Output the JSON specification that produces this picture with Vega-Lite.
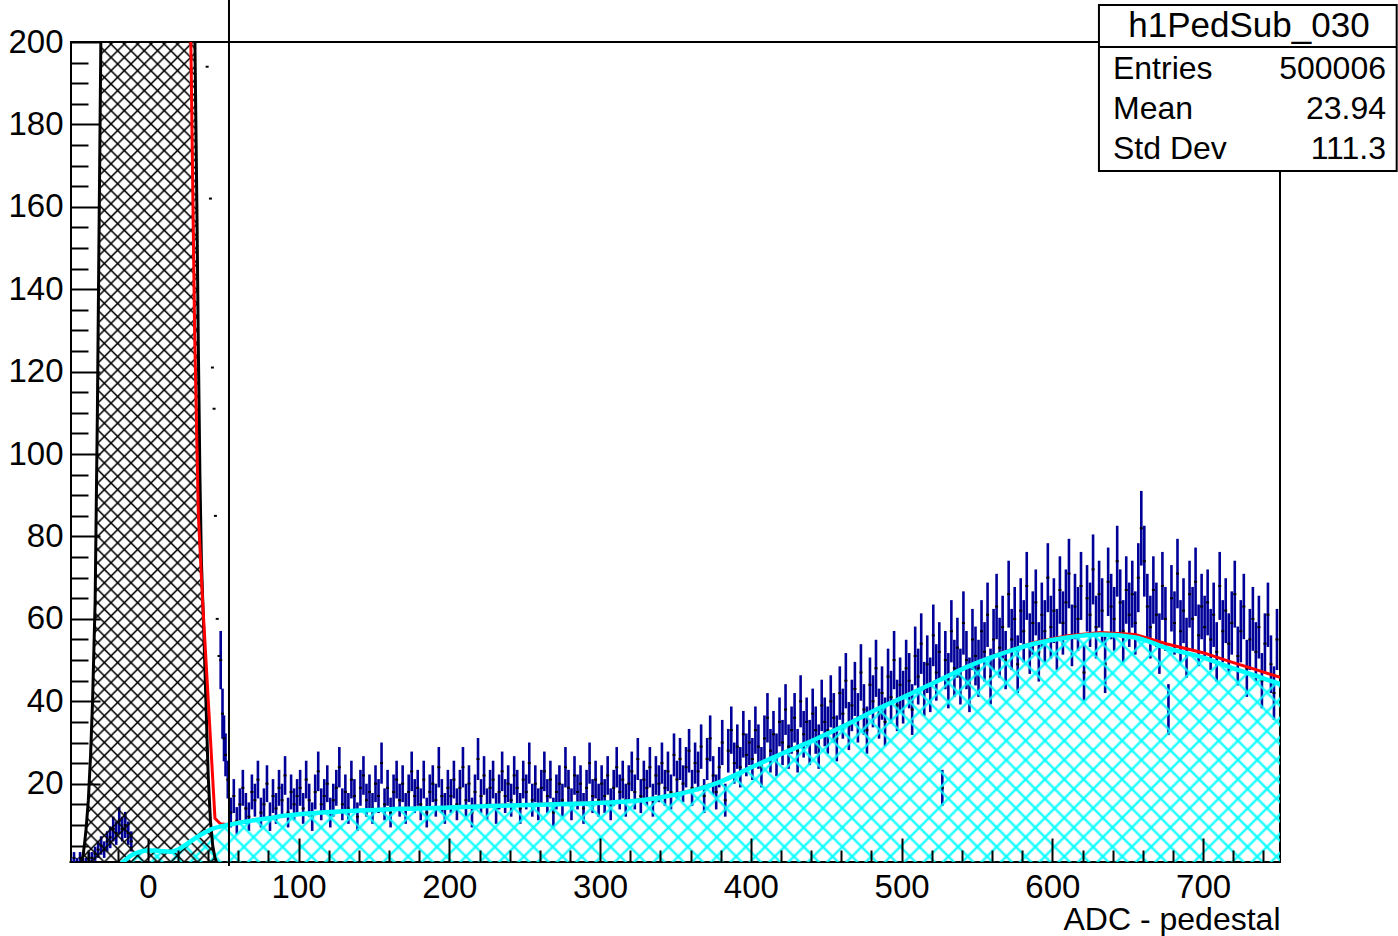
{
"$schema": "https://vega.github.io/schema/vega-lite/v6.json",
"width": 1209, "height": 820,
"autosize": {"type": "none"},
"padding": {"left": 71, "top": 42, "right": 118, "bottom": 74},
"background": "white",
"config": {"view": {"stroke": "black", "strokeWidth": 2}, "font": "Liberation Sans",
 "axis": {"domain": false, "tickColor": "black", "tickWidth": 2, "labelFont": "Liberation Sans", "labelFontSize": 33, "labelColor": "black", "titleFont": "Liberation Sans", "titleFontSize": 32, "titleFontWeight": "normal", "titleColor": "black"},
 "axisX": {"labelPadding": 33}, "axisY": {"labelPadding": 37}},
"datasets": {
"ped": [{"x":-48,"y":0},{"x":-45.5,"y":0.5},{"x":-44,"y":1.2},{"x":-43,"y":2.5},{"x":-42,"y":5.5},{"x":-41,"y":9},{"x":-39.5,"y":16},{"x":-38,"y":27},{"x":-36.7,"y":40},{"x":-35,"y":64},{"x":-33.5,"y":110},{"x":-32.5,"y":150},{"x":-31.2,"y":200},{"x":-30.6,"y":215},{"x":30.6,"y":215},{"x":31.2,"y":200},{"x":32.5,"y":160},{"x":33.5,"y":125},{"x":34.5,"y":95},{"x":35.5,"y":74},{"x":37,"y":58},{"x":38.5,"y":40},{"x":40,"y":22},{"x":41.5,"y":11},{"x":43,"y":5},{"x":44.5,"y":2},{"x":46,"y":0.5},{"x":48,"y":0}],
"red": [{"x":27.8,"y":240},{"x":28.5,"y":200},{"x":31,"y":130},{"x":33.5,"y":85},{"x":36.3,"y":64.3},{"x":40.4,"y":38},{"x":44.5,"y":11.6},{"x":48,"y":10.3},{"x":52.4,"y":10.1},{"x":60,"y":10.6},{"x":70,"y":11.2},{"x":80,"y":11.7},{"x":100,"y":12.7},{"x":130,"y":13.4},{"x":167,"y":14},{"x":200,"y":14.3},{"x":227,"y":14.7},{"x":260,"y":15},{"x":290,"y":15.3},{"x":315,"y":15.7},{"x":330,"y":16.2},{"x":345,"y":17.1},{"x":360,"y":18.3},{"x":380,"y":20.6},{"x":397,"y":23.5},{"x":420,"y":27.3},{"x":441,"y":30.6},{"x":465,"y":34.7},{"x":486,"y":38.6},{"x":500,"y":40.9},{"x":515,"y":43.5},{"x":530,"y":46.1},{"x":543,"y":48.5},{"x":565,"y":51.6},{"x":587,"y":54.2},{"x":610,"y":55.9},{"x":632,"y":56.7},{"x":655,"y":56.2},{"x":676,"y":53.9},{"x":700,"y":51.8},{"x":720,"y":49.4},{"x":735,"y":47.7},{"x":751,"y":45.8}],
"cyan": [{"x":-19.5,"y":0},{"x":-15,"y":1.5},{"x":-10,"y":2.8},{"x":-5,"y":3.5},{"x":0,"y":3.8},{"x":5,"y":3.8},{"x":10,"y":3.6},{"x":15,"y":3.5},{"x":20,"y":4},{"x":26,"y":5.4},{"x":31,"y":6.7},{"x":36,"y":7.8},{"x":40,"y":8.6},{"x":44,"y":9.2},{"x":48,"y":9.6},{"x":52,"y":9.9},{"x":60,"y":10.5},{"x":70,"y":11.1},{"x":80,"y":11.6},{"x":90,"y":12.2},{"x":100,"y":12.6},{"x":115,"y":13},{"x":130,"y":13.3},{"x":150,"y":13.6},{"x":167,"y":13.9},{"x":200,"y":14.2},{"x":227,"y":14.6},{"x":260,"y":14.9},{"x":290,"y":15.2},{"x":315,"y":15.6},{"x":330,"y":16.1},{"x":345,"y":17},{"x":360,"y":18.2},{"x":380,"y":20.5},{"x":397,"y":23.4},{"x":420,"y":27.2},{"x":441,"y":30.5},{"x":465,"y":34.6},{"x":486,"y":38.5},{"x":500,"y":40.8},{"x":515,"y":43.4},{"x":530,"y":46},{"x":543,"y":48.3},{"x":565,"y":51.4},{"x":587,"y":53.9},{"x":610,"y":55.5},{"x":632,"y":56.2},{"x":655,"y":55.5},{"x":676,"y":52.9},{"x":700,"y":50.6},{"x":720,"y":48},{"x":735,"y":46.2},{"x":751,"y":44.2}]
},
"layer": [
{"data": {"values": "x,y,s\n-51,1,1\n-49,2,1.41\n-47,1,1\n-45,2,1.41\n-43,1,1\n-41,1,1\n-39,2,1.41\n-37,2,1.41\n-35,3,1.73\n-33,4,2\n-31,5,2.24\n-29,4,2\n-27,6,2.45\n-25,7,2.65\n-23,9,3\n-21,8,2.83\n-19,11,3.32\n-17,9,3\n-15,10,3.16\n-13,8,2.83\n-11,6,2.45\n39.3,194,0\n41.5,162,0\n42.8,121,0\n43.9,111,0\n44.8,85,0\n46,60,0\n47.2,51,0\n48.3,50,7.07\n49.5,37,6.08\n50.5,31,5.57\n51.5,27,5.2\n53,21,4.58\n55,13,3.61\n57,17,4.12\n59,11,3.32\n61,15,3.87\n63,19,4.36\n65,14,3.74\n67,12,3.46\n69,18,4.24\n71,16,4\n73,21,4.58\n75,13,3.61\n77,15,3.87\n79,20,4.47\n81,12,3.46\n83,17,4.12\n85,14,3.74\n87,19,4.36\n89,16,4\n91,22,4.69\n93,13,3.61\n95,18,4.24\n97,15,3.87\n99,17,4.12\n101,19,4.36\n103,14,3.74\n105,21,4.58\n107,16,4\n109,12,3.46\n111,18,4.24\n113,23,4.8\n115,15,3.87\n117,17,4.12\n119,20,4.47\n121,13,3.61\n123,16,4\n125,19,4.36\n127,24,4.9\n129,15,3.87\n131,18,4.24\n133,14,3.74\n135,21,4.58\n137,17,4.12\n139,12,3.46\n141,19,4.36\n143,22,4.69\n145,16,4\n147,18,4.24\n149,14,3.74\n151,20,4.47\n153,17,4.12\n155,25,5\n157,15,3.87\n159,19,4.36\n161,13,3.61\n163,18,4.24\n165,21,4.58\n167,16,4\n169,20,4.47\n171,14,3.74\n173,18,4.24\n175,23,4.8\n177,17,4.12\n179,19,4.36\n181,15,3.87\n183,21,4.58\n185,13,3.61\n187,18,4.24\n189,20,4.47\n191,16,4\n193,24,4.9\n195,17,4.12\n197,14,3.74\n199,19,4.36\n201,17,4.12\n203,21,4.58\n205,15,3.87\n207,19,4.36\n209,24,4.9\n211,16,4\n213,20,4.47\n215,13,3.61\n217,18,4.24\n219,26,5.1\n221,17,4.12\n223,22,4.69\n225,15,3.87\n227,19,4.36\n229,21,4.58\n231,14,3.74\n233,18,4.24\n235,23,4.8\n237,17,4.12\n239,20,4.47\n241,16,4\n243,22,4.69\n245,19,4.36\n247,14,3.74\n249,21,4.58\n251,18,4.24\n253,25,5\n255,16,4\n257,20,4.47\n259,15,3.87\n261,19,4.36\n263,23,4.8\n265,17,4.12\n267,21,4.58\n269,13,3.61\n271,18,4.24\n273,20,4.47\n275,16,4\n277,24,4.9\n279,19,4.36\n281,15,3.87\n283,22,4.69\n285,18,4.24\n287,20,4.47\n289,14,3.74\n291,19,4.36\n293,25,5\n295,17,4.12\n297,21,4.58\n299,16,4\n301,20,4.47\n303,17,4.12\n305,22,4.69\n307,15,3.87\n309,19,4.36\n311,24,4.9\n313,18,4.24\n315,21,4.58\n317,16,4\n319,20,4.47\n321,23,4.8\n323,18,4.24\n325,26,5.1\n327,17,4.12\n329,21,4.58\n331,19,4.36\n333,24,4.9\n335,16,4\n337,22,4.69\n339,20,4.47\n341,25,5\n343,19,4.36\n345,23,4.8\n347,18,4.24\n349,27,5.2\n351,21,4.58\n353,26,5.1\n355,20,4.47\n357,24,4.9\n359,28,5.29\n361,19,4.36\n363,25,5\n365,23,4.8\n367,29,5.39\n369,17,4.12\n371,26,5.1\n373,31,5.57\n375,22,4.69\n377,18,4.24\n379,24,4.9\n381,30,5.48\n383,16,4\n385,28,5.29\n387,33,5.74\n389,25,5\n391,29,5.39\n393,24,4.9\n395,32,5.66\n397,27,5.2\n399,30,5.48\n401,26,5.1\n403,33,5.74\n405,29,5.39\n407,24,4.9\n409,31,5.57\n411,36,6\n413,28,5.29\n415,32,5.66\n417,27,5.2\n419,35,5.92\n421,30,5.48\n423,38,6.16\n425,29,5.39\n427,33,5.74\n429,36,6\n431,28,5.29\n433,40,6.32\n435,32,5.66\n437,35,5.92\n439,30,5.48\n441,37,6.08\n443,33,5.74\n445,29,5.39\n447,39,6.24\n449,35,5.92\n451,33,5.74\n453,40,6.32\n455,36,6\n457,31,5.57\n459,42,6.48\n461,37,6.08\n463,45,6.71\n465,34,5.83\n467,39,6.24\n469,43,6.56\n471,36,6\n473,47,6.86\n475,38,6.16\n477,33,5.74\n479,44,6.63\n481,40,6.32\n483,48,6.93\n485,37,6.08\n487,42,6.48\n489,35,5.92\n491,46,6.78\n493,41,6.4\n495,50,7.07\n497,39,6.24\n499,44,6.63\n501,41,6.4\n503,48,6.93\n505,45,6.71\n507,38,6.16\n509,51,7.14\n511,46,6.78\n513,54,7.35\n515,43,6.56\n517,49,7\n519,44,6.63\n521,56,7.48\n523,47,6.86\n525,52,7.21\n527,19,4.36\n529,50,7.07\n531,45,6.71\n533,57,7.55\n535,48,6.93\n537,53,7.28\n539,46,6.78\n541,59,7.68\n543,50,7.07\n545,44,6.63\n547,55,7.42\n549,51,7.14\n551,48,6.93\n553,57,7.55\n555,52,7.21\n557,61,7.81\n559,46,6.78\n561,55,7.42\n563,63,7.94\n565,53,7.28\n567,58,7.62\n569,50,7.07\n571,66,8.12\n573,55,7.42\n575,60,7.75\n577,49,7\n579,62,7.87\n581,57,7.55\n583,68,8.25\n585,54,7.35\n587,59,7.68\n589,64,8\n591,52,7.21\n593,61,7.81\n595,57,7.55\n597,70,8.37\n599,58,7.62\n601,62,7.87\n603,55,7.42\n605,67,8.19\n607,59,7.68\n609,64,8\n611,71,8.43\n613,56,7.48\n615,63,7.94\n617,60,7.75\n619,68,8.25\n621,47,6.86\n623,65,8.06\n625,61,7.81\n627,72,8.49\n629,58,7.62\n631,66,8.12\n633,62,7.87\n635,49,7\n637,69,8.31\n639,63,7.94\n641,60,7.75\n643,74,8.6\n645,64,8\n647,57,7.55\n649,67,8.19\n651,61,7.81\n653,66,8.12\n655,59,7.68\n657,70,8.37\n659,82,9.06\n661,74,8.6\n663,63,7.94\n665,58,7.62\n667,67,8.19\n669,61,7.81\n671,54,7.35\n673,68,8.25\n675,60,7.75\n677,38,6.16\n679,65,8.06\n681,59,7.68\n683,71,8.43\n685,57,7.55\n687,62,7.87\n689,53,7.28\n691,66,8.12\n693,60,7.75\n695,69,8.31\n697,56,7.48\n699,63,7.94\n701,58,7.62\n703,64,8\n705,55,7.42\n707,61,7.81\n709,52,7.21\n711,68,8.25\n713,57,7.55\n715,62,7.87\n717,54,7.35\n719,59,7.68\n721,66,8.12\n723,51,7.14\n725,57,7.55\n727,63,7.94\n729,48,6.93\n731,55,7.42\n733,60,7.75\n735,52,7.21\n737,58,7.62\n739,45,6.71\n741,54,7.35\n743,61,7.81\n745,49,7\n747,42,6.48\n749,55,7.42", "format": {"type": "csv", "parse": {"x": "number", "y": "number", "s": "number"}}},
 "encoding": {
  "x": {"field": "x", "type": "quantitative", "scale": {"domain": [-51, 751], "nice": false, "zero": false}, "axis": {"values": [-40,-20,0,20,40,60,80,100,120,140,160,180,200,220,240,260,280,300,320,340,360,380,400,420,440,460,480,500,520,540,560,580,600,620,640,660,680,700,720,740], "tickSize": {"condition": {"test": "datum.value % 100 === 0", "value": -24}, "value": -12}, "labelExpr": "datum.value % 100 === 0 ? datum.label : ''", "labelBaseline": "top", "labelFlush": false, "labelOverlap": false, "grid": false, "title": "ADC - pedestal", "titleAlign": "right", "titleAnchor": "end", "titleX": 1209, "titleY": 67, "titleBaseline": "alphabetic", "zindex": 1}},
  "y": {"field": "y", "type": "quantitative", "scale": {"domain": [1, 200], "nice": false, "zero": false}, "axis": {"values": [5,10,15,20,25,30,35,40,45,50,55,60,65,70,75,80,85,90,95,100,105,110,115,120,125,130,135,140,145,150,155,160,165,170,175,180,185,190,195,200], "tickSize": {"condition": {"test": "datum.value % 20 === 0", "value": -29}, "value": -17}, "labelExpr": "datum.value % 20 === 0 ? datum.label : ''", "labelFlush": false, "labelOverlap": false, "grid": false, "title": null, "zindex": 1}}},
 "layer": [
  {"mark": {"type": "errorbar", "color": "#000099", "thickness": 2.6, "clip": true}, "encoding": {"yError": {"field": "s"}}},
  {"mark": {"type": "tick", "orient": "horizontal", "color": "black", "size": 3, "thickness": 2, "opacity": 1}}
 ]},
{"data": {"name": "cyan"}, "mark": {"type": "area", "opacity": 1, "clip": true, "interpolate": "monotone",
  "fill": {"gradient": "linear", "x1": 0, "y1": 0, "x2": 1.16, "y2": 0.2313, "stops": [
{"offset":0.0047,"color":"rgba(0,255,255,0)"},{"offset":0.0069,"color":"#0ff"},{"offset":0.0091,"color":"rgba(0,255,255,0)"},
{"offset":0.0185,"color":"rgba(0,255,255,0)"},{"offset":0.0207,"color":"#0ff"},{"offset":0.0229,"color":"rgba(0,255,255,0)"},
{"offset":0.0322,"color":"rgba(0,255,255,0)"},{"offset":0.0344,"color":"#0ff"},{"offset":0.0366,"color":"rgba(0,255,255,0)"},
{"offset":0.0460,"color":"rgba(0,255,255,0)"},{"offset":0.0482,"color":"#0ff"},{"offset":0.0504,"color":"rgba(0,255,255,0)"},
{"offset":0.0598,"color":"rgba(0,255,255,0)"},{"offset":0.0620,"color":"#0ff"},{"offset":0.0642,"color":"rgba(0,255,255,0)"},
{"offset":0.0736,"color":"rgba(0,255,255,0)"},{"offset":0.0758,"color":"#0ff"},{"offset":0.0780,"color":"rgba(0,255,255,0)"},
{"offset":0.0874,"color":"rgba(0,255,255,0)"},{"offset":0.0896,"color":"#0ff"},{"offset":0.0918,"color":"rgba(0,255,255,0)"},
{"offset":0.1011,"color":"rgba(0,255,255,0)"},{"offset":0.1033,"color":"#0ff"},{"offset":0.1055,"color":"rgba(0,255,255,0)"},
{"offset":0.1149,"color":"rgba(0,255,255,0)"},{"offset":0.1171,"color":"#0ff"},{"offset":0.1193,"color":"rgba(0,255,255,0)"},
{"offset":0.1287,"color":"rgba(0,255,255,0)"},{"offset":0.1309,"color":"#0ff"},{"offset":0.1331,"color":"rgba(0,255,255,0)"},
{"offset":0.1425,"color":"rgba(0,255,255,0)"},{"offset":0.1447,"color":"#0ff"},{"offset":0.1469,"color":"rgba(0,255,255,0)"},
{"offset":0.1562,"color":"rgba(0,255,255,0)"},{"offset":0.1584,"color":"#0ff"},{"offset":0.1606,"color":"rgba(0,255,255,0)"},
{"offset":0.1700,"color":"rgba(0,255,255,0)"},{"offset":0.1722,"color":"#0ff"},{"offset":0.1744,"color":"rgba(0,255,255,0)"},
{"offset":0.1838,"color":"rgba(0,255,255,0)"},{"offset":0.1860,"color":"#0ff"},{"offset":0.1882,"color":"rgba(0,255,255,0)"},
{"offset":0.1976,"color":"rgba(0,255,255,0)"},{"offset":0.1998,"color":"#0ff"},{"offset":0.2020,"color":"rgba(0,255,255,0)"},
{"offset":0.2114,"color":"rgba(0,255,255,0)"},{"offset":0.2136,"color":"#0ff"},{"offset":0.2158,"color":"rgba(0,255,255,0)"},
{"offset":0.2251,"color":"rgba(0,255,255,0)"},{"offset":0.2273,"color":"#0ff"},{"offset":0.2295,"color":"rgba(0,255,255,0)"},
{"offset":0.2389,"color":"rgba(0,255,255,0)"},{"offset":0.2411,"color":"#0ff"},{"offset":0.2433,"color":"rgba(0,255,255,0)"},
{"offset":0.2527,"color":"rgba(0,255,255,0)"},{"offset":0.2549,"color":"#0ff"},{"offset":0.2571,"color":"rgba(0,255,255,0)"},
{"offset":0.2665,"color":"rgba(0,255,255,0)"},{"offset":0.2687,"color":"#0ff"},{"offset":0.2709,"color":"rgba(0,255,255,0)"},
{"offset":0.2802,"color":"rgba(0,255,255,0)"},{"offset":0.2824,"color":"#0ff"},{"offset":0.2846,"color":"rgba(0,255,255,0)"},
{"offset":0.2940,"color":"rgba(0,255,255,0)"},{"offset":0.2962,"color":"#0ff"},{"offset":0.2984,"color":"rgba(0,255,255,0)"},
{"offset":0.3078,"color":"rgba(0,255,255,0)"},{"offset":0.3100,"color":"#0ff"},{"offset":0.3122,"color":"rgba(0,255,255,0)"},
{"offset":0.3216,"color":"rgba(0,255,255,0)"},{"offset":0.3238,"color":"#0ff"},{"offset":0.3260,"color":"rgba(0,255,255,0)"},
{"offset":0.3353,"color":"rgba(0,255,255,0)"},{"offset":0.3375,"color":"#0ff"},{"offset":0.3397,"color":"rgba(0,255,255,0)"},
{"offset":0.3491,"color":"rgba(0,255,255,0)"},{"offset":0.3513,"color":"#0ff"},{"offset":0.3535,"color":"rgba(0,255,255,0)"},
{"offset":0.3629,"color":"rgba(0,255,255,0)"},{"offset":0.3651,"color":"#0ff"},{"offset":0.3673,"color":"rgba(0,255,255,0)"},
{"offset":0.3767,"color":"rgba(0,255,255,0)"},{"offset":0.3789,"color":"#0ff"},{"offset":0.3811,"color":"rgba(0,255,255,0)"},
{"offset":0.3905,"color":"rgba(0,255,255,0)"},{"offset":0.3927,"color":"#0ff"},{"offset":0.3949,"color":"rgba(0,255,255,0)"},
{"offset":0.4042,"color":"rgba(0,255,255,0)"},{"offset":0.4064,"color":"#0ff"},{"offset":0.4086,"color":"rgba(0,255,255,0)"},
{"offset":0.4180,"color":"rgba(0,255,255,0)"},{"offset":0.4202,"color":"#0ff"},{"offset":0.4224,"color":"rgba(0,255,255,0)"},
{"offset":0.4318,"color":"rgba(0,255,255,0)"},{"offset":0.4340,"color":"#0ff"},{"offset":0.4362,"color":"rgba(0,255,255,0)"},
{"offset":0.4456,"color":"rgba(0,255,255,0)"},{"offset":0.4478,"color":"#0ff"},{"offset":0.4500,"color":"rgba(0,255,255,0)"},
{"offset":0.4593,"color":"rgba(0,255,255,0)"},{"offset":0.4615,"color":"#0ff"},{"offset":0.4637,"color":"rgba(0,255,255,0)"},
{"offset":0.4731,"color":"rgba(0,255,255,0)"},{"offset":0.4753,"color":"#0ff"},{"offset":0.4775,"color":"rgba(0,255,255,0)"},
{"offset":0.4869,"color":"rgba(0,255,255,0)"},{"offset":0.4891,"color":"#0ff"},{"offset":0.4913,"color":"rgba(0,255,255,0)"},
{"offset":0.5007,"color":"rgba(0,255,255,0)"},{"offset":0.5029,"color":"#0ff"},{"offset":0.5051,"color":"rgba(0,255,255,0)"},
{"offset":0.5144,"color":"rgba(0,255,255,0)"},{"offset":0.5166,"color":"#0ff"},{"offset":0.5188,"color":"rgba(0,255,255,0)"},
{"offset":0.5282,"color":"rgba(0,255,255,0)"},{"offset":0.5304,"color":"#0ff"},{"offset":0.5326,"color":"rgba(0,255,255,0)"},
{"offset":0.5420,"color":"rgba(0,255,255,0)"},{"offset":0.5442,"color":"#0ff"},{"offset":0.5464,"color":"rgba(0,255,255,0)"},
{"offset":0.5558,"color":"rgba(0,255,255,0)"},{"offset":0.5580,"color":"#0ff"},{"offset":0.5602,"color":"rgba(0,255,255,0)"},
{"offset":0.5696,"color":"rgba(0,255,255,0)"},{"offset":0.5718,"color":"#0ff"},{"offset":0.5740,"color":"rgba(0,255,255,0)"},
{"offset":0.5833,"color":"rgba(0,255,255,0)"},{"offset":0.5855,"color":"#0ff"},{"offset":0.5877,"color":"rgba(0,255,255,0)"},
{"offset":0.5971,"color":"rgba(0,255,255,0)"},{"offset":0.5993,"color":"#0ff"},{"offset":0.6015,"color":"rgba(0,255,255,0)"},
{"offset":0.6109,"color":"rgba(0,255,255,0)"},{"offset":0.6131,"color":"#0ff"},{"offset":0.6153,"color":"rgba(0,255,255,0)"},
{"offset":0.6247,"color":"rgba(0,255,255,0)"},{"offset":0.6269,"color":"#0ff"},{"offset":0.6291,"color":"rgba(0,255,255,0)"},
{"offset":0.6384,"color":"rgba(0,255,255,0)"},{"offset":0.6406,"color":"#0ff"},{"offset":0.6428,"color":"rgba(0,255,255,0)"},
{"offset":0.6522,"color":"rgba(0,255,255,0)"},{"offset":0.6544,"color":"#0ff"},{"offset":0.6566,"color":"rgba(0,255,255,0)"},
{"offset":0.6660,"color":"rgba(0,255,255,0)"},{"offset":0.6682,"color":"#0ff"},{"offset":0.6704,"color":"rgba(0,255,255,0)"},
{"offset":0.6798,"color":"rgba(0,255,255,0)"},{"offset":0.6820,"color":"#0ff"},{"offset":0.6842,"color":"rgba(0,255,255,0)"},
{"offset":0.6936,"color":"rgba(0,255,255,0)"},{"offset":0.6958,"color":"#0ff"},{"offset":0.6980,"color":"rgba(0,255,255,0)"},
{"offset":0.7073,"color":"rgba(0,255,255,0)"},{"offset":0.7095,"color":"#0ff"},{"offset":0.7117,"color":"rgba(0,255,255,0)"},
{"offset":0.7211,"color":"rgba(0,255,255,0)"},{"offset":0.7233,"color":"#0ff"},{"offset":0.7255,"color":"rgba(0,255,255,0)"},
{"offset":0.7349,"color":"rgba(0,255,255,0)"},{"offset":0.7371,"color":"#0ff"},{"offset":0.7393,"color":"rgba(0,255,255,0)"},
{"offset":0.7487,"color":"rgba(0,255,255,0)"},{"offset":0.7509,"color":"#0ff"},{"offset":0.7531,"color":"rgba(0,255,255,0)"},
{"offset":0.7624,"color":"rgba(0,255,255,0)"},{"offset":0.7646,"color":"#0ff"},{"offset":0.7668,"color":"rgba(0,255,255,0)"},
{"offset":0.7762,"color":"rgba(0,255,255,0)"},{"offset":0.7784,"color":"#0ff"},{"offset":0.7806,"color":"rgba(0,255,255,0)"},
{"offset":0.7900,"color":"rgba(0,255,255,0)"},{"offset":0.7922,"color":"#0ff"},{"offset":0.7944,"color":"rgba(0,255,255,0)"},
{"offset":0.8038,"color":"rgba(0,255,255,0)"},{"offset":0.8060,"color":"#0ff"},{"offset":0.8082,"color":"rgba(0,255,255,0)"},
{"offset":0.8175,"color":"rgba(0,255,255,0)"},{"offset":0.8197,"color":"#0ff"},{"offset":0.8219,"color":"rgba(0,255,255,0)"},
{"offset":0.8313,"color":"rgba(0,255,255,0)"},{"offset":0.8335,"color":"#0ff"},{"offset":0.8357,"color":"rgba(0,255,255,0)"},
{"offset":0.8451,"color":"rgba(0,255,255,0)"},{"offset":0.8473,"color":"#0ff"},{"offset":0.8495,"color":"rgba(0,255,255,0)"},
{"offset":0.8589,"color":"rgba(0,255,255,0)"},{"offset":0.8611,"color":"#0ff"},{"offset":0.8633,"color":"rgba(0,255,255,0)"},
{"offset":0.8727,"color":"rgba(0,255,255,0)"},{"offset":0.8749,"color":"#0ff"},{"offset":0.8771,"color":"rgba(0,255,255,0)"},
{"offset":0.8864,"color":"rgba(0,255,255,0)"},{"offset":0.8886,"color":"#0ff"},{"offset":0.8908,"color":"rgba(0,255,255,0)"},
{"offset":0.9002,"color":"rgba(0,255,255,0)"},{"offset":0.9024,"color":"#0ff"},{"offset":0.9046,"color":"rgba(0,255,255,0)"},
{"offset":0.9140,"color":"rgba(0,255,255,0)"},{"offset":0.9162,"color":"#0ff"},{"offset":0.9184,"color":"rgba(0,255,255,0)"},
{"offset":0.9278,"color":"rgba(0,255,255,0)"},{"offset":0.9300,"color":"#0ff"},{"offset":0.9322,"color":"rgba(0,255,255,0)"},
{"offset":0.9415,"color":"rgba(0,255,255,0)"},{"offset":0.9437,"color":"#0ff"},{"offset":0.9459,"color":"rgba(0,255,255,0)"},
{"offset":0.9553,"color":"rgba(0,255,255,0)"},{"offset":0.9575,"color":"#0ff"},{"offset":0.9597,"color":"rgba(0,255,255,0)"},
{"offset":0.9691,"color":"rgba(0,255,255,0)"},{"offset":0.9713,"color":"#0ff"},{"offset":0.9735,"color":"rgba(0,255,255,0)"},
{"offset":0.9829,"color":"rgba(0,255,255,0)"},{"offset":0.9851,"color":"#0ff"},{"offset":0.9873,"color":"rgba(0,255,255,0)"}
]}},
 "encoding": {
  "x": {"field": "x", "type": "quantitative", "scale": {"domain": [-51, 751], "nice": false, "zero": false}, "axis": {"values": [-40,-20,0,20,40,60,80,100,120,140,160,180,200,220,240,260,280,300,320,340,360,380,400,420,440,460,480,500,520,540,560,580,600,620,640,660,680,700,720,740], "tickSize": {"condition": {"test": "datum.value % 100 === 0", "value": -24}, "value": -12}, "labelExpr": "datum.value % 100 === 0 ? datum.label : ''", "labelBaseline": "top", "labelFlush": false, "labelOverlap": false, "grid": false, "title": "ADC - pedestal", "titleAlign": "right", "titleAnchor": "end", "titleX": 1209, "titleY": 67, "titleBaseline": "alphabetic", "zindex": 1}},
  "y": {"field": "y", "type": "quantitative", "scale": {"domain": [1, 200], "nice": false, "zero": false}, "axis": {"values": [5,10,15,20,25,30,35,40,45,50,55,60,65,70,75,80,85,90,95,100,105,110,115,120,125,130,135,140,145,150,155,160,165,170,175,180,185,190,195,200], "tickSize": {"condition": {"test": "datum.value % 20 === 0", "value": -29}, "value": -17}, "labelExpr": "datum.value % 20 === 0 ? datum.label : ''", "labelFlush": false, "labelOverlap": false, "grid": false, "title": null, "zindex": 1}},
  "y2": {"datum": 0}}},
{"data": {"name": "cyan"}, "mark": {"type": "area", "opacity": 1, "clip": true, "interpolate": "monotone",
  "fill": {"gradient": "linear", "x1": 0, "y1": 1, "x2": 1.16, "y2": 0.7687, "stops": [
{"offset":0.0047,"color":"rgba(0,255,255,0)"},{"offset":0.0069,"color":"#0ff"},{"offset":0.0091,"color":"rgba(0,255,255,0)"},
{"offset":0.0185,"color":"rgba(0,255,255,0)"},{"offset":0.0207,"color":"#0ff"},{"offset":0.0229,"color":"rgba(0,255,255,0)"},
{"offset":0.0322,"color":"rgba(0,255,255,0)"},{"offset":0.0344,"color":"#0ff"},{"offset":0.0366,"color":"rgba(0,255,255,0)"},
{"offset":0.0460,"color":"rgba(0,255,255,0)"},{"offset":0.0482,"color":"#0ff"},{"offset":0.0504,"color":"rgba(0,255,255,0)"},
{"offset":0.0598,"color":"rgba(0,255,255,0)"},{"offset":0.0620,"color":"#0ff"},{"offset":0.0642,"color":"rgba(0,255,255,0)"},
{"offset":0.0736,"color":"rgba(0,255,255,0)"},{"offset":0.0758,"color":"#0ff"},{"offset":0.0780,"color":"rgba(0,255,255,0)"},
{"offset":0.0874,"color":"rgba(0,255,255,0)"},{"offset":0.0896,"color":"#0ff"},{"offset":0.0918,"color":"rgba(0,255,255,0)"},
{"offset":0.1011,"color":"rgba(0,255,255,0)"},{"offset":0.1033,"color":"#0ff"},{"offset":0.1055,"color":"rgba(0,255,255,0)"},
{"offset":0.1149,"color":"rgba(0,255,255,0)"},{"offset":0.1171,"color":"#0ff"},{"offset":0.1193,"color":"rgba(0,255,255,0)"},
{"offset":0.1287,"color":"rgba(0,255,255,0)"},{"offset":0.1309,"color":"#0ff"},{"offset":0.1331,"color":"rgba(0,255,255,0)"},
{"offset":0.1425,"color":"rgba(0,255,255,0)"},{"offset":0.1447,"color":"#0ff"},{"offset":0.1469,"color":"rgba(0,255,255,0)"},
{"offset":0.1562,"color":"rgba(0,255,255,0)"},{"offset":0.1584,"color":"#0ff"},{"offset":0.1606,"color":"rgba(0,255,255,0)"},
{"offset":0.1700,"color":"rgba(0,255,255,0)"},{"offset":0.1722,"color":"#0ff"},{"offset":0.1744,"color":"rgba(0,255,255,0)"},
{"offset":0.1838,"color":"rgba(0,255,255,0)"},{"offset":0.1860,"color":"#0ff"},{"offset":0.1882,"color":"rgba(0,255,255,0)"},
{"offset":0.1976,"color":"rgba(0,255,255,0)"},{"offset":0.1998,"color":"#0ff"},{"offset":0.2020,"color":"rgba(0,255,255,0)"},
{"offset":0.2114,"color":"rgba(0,255,255,0)"},{"offset":0.2136,"color":"#0ff"},{"offset":0.2158,"color":"rgba(0,255,255,0)"},
{"offset":0.2251,"color":"rgba(0,255,255,0)"},{"offset":0.2273,"color":"#0ff"},{"offset":0.2295,"color":"rgba(0,255,255,0)"},
{"offset":0.2389,"color":"rgba(0,255,255,0)"},{"offset":0.2411,"color":"#0ff"},{"offset":0.2433,"color":"rgba(0,255,255,0)"},
{"offset":0.2527,"color":"rgba(0,255,255,0)"},{"offset":0.2549,"color":"#0ff"},{"offset":0.2571,"color":"rgba(0,255,255,0)"},
{"offset":0.2665,"color":"rgba(0,255,255,0)"},{"offset":0.2687,"color":"#0ff"},{"offset":0.2709,"color":"rgba(0,255,255,0)"},
{"offset":0.2802,"color":"rgba(0,255,255,0)"},{"offset":0.2824,"color":"#0ff"},{"offset":0.2846,"color":"rgba(0,255,255,0)"},
{"offset":0.2940,"color":"rgba(0,255,255,0)"},{"offset":0.2962,"color":"#0ff"},{"offset":0.2984,"color":"rgba(0,255,255,0)"},
{"offset":0.3078,"color":"rgba(0,255,255,0)"},{"offset":0.3100,"color":"#0ff"},{"offset":0.3122,"color":"rgba(0,255,255,0)"},
{"offset":0.3216,"color":"rgba(0,255,255,0)"},{"offset":0.3238,"color":"#0ff"},{"offset":0.3260,"color":"rgba(0,255,255,0)"},
{"offset":0.3353,"color":"rgba(0,255,255,0)"},{"offset":0.3375,"color":"#0ff"},{"offset":0.3397,"color":"rgba(0,255,255,0)"},
{"offset":0.3491,"color":"rgba(0,255,255,0)"},{"offset":0.3513,"color":"#0ff"},{"offset":0.3535,"color":"rgba(0,255,255,0)"},
{"offset":0.3629,"color":"rgba(0,255,255,0)"},{"offset":0.3651,"color":"#0ff"},{"offset":0.3673,"color":"rgba(0,255,255,0)"},
{"offset":0.3767,"color":"rgba(0,255,255,0)"},{"offset":0.3789,"color":"#0ff"},{"offset":0.3811,"color":"rgba(0,255,255,0)"},
{"offset":0.3905,"color":"rgba(0,255,255,0)"},{"offset":0.3927,"color":"#0ff"},{"offset":0.3949,"color":"rgba(0,255,255,0)"},
{"offset":0.4042,"color":"rgba(0,255,255,0)"},{"offset":0.4064,"color":"#0ff"},{"offset":0.4086,"color":"rgba(0,255,255,0)"},
{"offset":0.4180,"color":"rgba(0,255,255,0)"},{"offset":0.4202,"color":"#0ff"},{"offset":0.4224,"color":"rgba(0,255,255,0)"},
{"offset":0.4318,"color":"rgba(0,255,255,0)"},{"offset":0.4340,"color":"#0ff"},{"offset":0.4362,"color":"rgba(0,255,255,0)"},
{"offset":0.4456,"color":"rgba(0,255,255,0)"},{"offset":0.4478,"color":"#0ff"},{"offset":0.4500,"color":"rgba(0,255,255,0)"},
{"offset":0.4593,"color":"rgba(0,255,255,0)"},{"offset":0.4615,"color":"#0ff"},{"offset":0.4637,"color":"rgba(0,255,255,0)"},
{"offset":0.4731,"color":"rgba(0,255,255,0)"},{"offset":0.4753,"color":"#0ff"},{"offset":0.4775,"color":"rgba(0,255,255,0)"},
{"offset":0.4869,"color":"rgba(0,255,255,0)"},{"offset":0.4891,"color":"#0ff"},{"offset":0.4913,"color":"rgba(0,255,255,0)"},
{"offset":0.5007,"color":"rgba(0,255,255,0)"},{"offset":0.5029,"color":"#0ff"},{"offset":0.5051,"color":"rgba(0,255,255,0)"},
{"offset":0.5144,"color":"rgba(0,255,255,0)"},{"offset":0.5166,"color":"#0ff"},{"offset":0.5188,"color":"rgba(0,255,255,0)"},
{"offset":0.5282,"color":"rgba(0,255,255,0)"},{"offset":0.5304,"color":"#0ff"},{"offset":0.5326,"color":"rgba(0,255,255,0)"},
{"offset":0.5420,"color":"rgba(0,255,255,0)"},{"offset":0.5442,"color":"#0ff"},{"offset":0.5464,"color":"rgba(0,255,255,0)"},
{"offset":0.5558,"color":"rgba(0,255,255,0)"},{"offset":0.5580,"color":"#0ff"},{"offset":0.5602,"color":"rgba(0,255,255,0)"},
{"offset":0.5696,"color":"rgba(0,255,255,0)"},{"offset":0.5718,"color":"#0ff"},{"offset":0.5740,"color":"rgba(0,255,255,0)"},
{"offset":0.5833,"color":"rgba(0,255,255,0)"},{"offset":0.5855,"color":"#0ff"},{"offset":0.5877,"color":"rgba(0,255,255,0)"},
{"offset":0.5971,"color":"rgba(0,255,255,0)"},{"offset":0.5993,"color":"#0ff"},{"offset":0.6015,"color":"rgba(0,255,255,0)"},
{"offset":0.6109,"color":"rgba(0,255,255,0)"},{"offset":0.6131,"color":"#0ff"},{"offset":0.6153,"color":"rgba(0,255,255,0)"},
{"offset":0.6247,"color":"rgba(0,255,255,0)"},{"offset":0.6269,"color":"#0ff"},{"offset":0.6291,"color":"rgba(0,255,255,0)"},
{"offset":0.6384,"color":"rgba(0,255,255,0)"},{"offset":0.6406,"color":"#0ff"},{"offset":0.6428,"color":"rgba(0,255,255,0)"},
{"offset":0.6522,"color":"rgba(0,255,255,0)"},{"offset":0.6544,"color":"#0ff"},{"offset":0.6566,"color":"rgba(0,255,255,0)"},
{"offset":0.6660,"color":"rgba(0,255,255,0)"},{"offset":0.6682,"color":"#0ff"},{"offset":0.6704,"color":"rgba(0,255,255,0)"},
{"offset":0.6798,"color":"rgba(0,255,255,0)"},{"offset":0.6820,"color":"#0ff"},{"offset":0.6842,"color":"rgba(0,255,255,0)"},
{"offset":0.6936,"color":"rgba(0,255,255,0)"},{"offset":0.6958,"color":"#0ff"},{"offset":0.6980,"color":"rgba(0,255,255,0)"},
{"offset":0.7073,"color":"rgba(0,255,255,0)"},{"offset":0.7095,"color":"#0ff"},{"offset":0.7117,"color":"rgba(0,255,255,0)"},
{"offset":0.7211,"color":"rgba(0,255,255,0)"},{"offset":0.7233,"color":"#0ff"},{"offset":0.7255,"color":"rgba(0,255,255,0)"},
{"offset":0.7349,"color":"rgba(0,255,255,0)"},{"offset":0.7371,"color":"#0ff"},{"offset":0.7393,"color":"rgba(0,255,255,0)"},
{"offset":0.7487,"color":"rgba(0,255,255,0)"},{"offset":0.7509,"color":"#0ff"},{"offset":0.7531,"color":"rgba(0,255,255,0)"},
{"offset":0.7624,"color":"rgba(0,255,255,0)"},{"offset":0.7646,"color":"#0ff"},{"offset":0.7668,"color":"rgba(0,255,255,0)"},
{"offset":0.7762,"color":"rgba(0,255,255,0)"},{"offset":0.7784,"color":"#0ff"},{"offset":0.7806,"color":"rgba(0,255,255,0)"},
{"offset":0.7900,"color":"rgba(0,255,255,0)"},{"offset":0.7922,"color":"#0ff"},{"offset":0.7944,"color":"rgba(0,255,255,0)"},
{"offset":0.8038,"color":"rgba(0,255,255,0)"},{"offset":0.8060,"color":"#0ff"},{"offset":0.8082,"color":"rgba(0,255,255,0)"},
{"offset":0.8175,"color":"rgba(0,255,255,0)"},{"offset":0.8197,"color":"#0ff"},{"offset":0.8219,"color":"rgba(0,255,255,0)"},
{"offset":0.8313,"color":"rgba(0,255,255,0)"},{"offset":0.8335,"color":"#0ff"},{"offset":0.8357,"color":"rgba(0,255,255,0)"},
{"offset":0.8451,"color":"rgba(0,255,255,0)"},{"offset":0.8473,"color":"#0ff"},{"offset":0.8495,"color":"rgba(0,255,255,0)"},
{"offset":0.8589,"color":"rgba(0,255,255,0)"},{"offset":0.8611,"color":"#0ff"},{"offset":0.8633,"color":"rgba(0,255,255,0)"},
{"offset":0.8727,"color":"rgba(0,255,255,0)"},{"offset":0.8749,"color":"#0ff"},{"offset":0.8771,"color":"rgba(0,255,255,0)"},
{"offset":0.8864,"color":"rgba(0,255,255,0)"},{"offset":0.8886,"color":"#0ff"},{"offset":0.8908,"color":"rgba(0,255,255,0)"},
{"offset":0.9002,"color":"rgba(0,255,255,0)"},{"offset":0.9024,"color":"#0ff"},{"offset":0.9046,"color":"rgba(0,255,255,0)"},
{"offset":0.9140,"color":"rgba(0,255,255,0)"},{"offset":0.9162,"color":"#0ff"},{"offset":0.9184,"color":"rgba(0,255,255,0)"},
{"offset":0.9278,"color":"rgba(0,255,255,0)"},{"offset":0.9300,"color":"#0ff"},{"offset":0.9322,"color":"rgba(0,255,255,0)"},
{"offset":0.9415,"color":"rgba(0,255,255,0)"},{"offset":0.9437,"color":"#0ff"},{"offset":0.9459,"color":"rgba(0,255,255,0)"},
{"offset":0.9553,"color":"rgba(0,255,255,0)"},{"offset":0.9575,"color":"#0ff"},{"offset":0.9597,"color":"rgba(0,255,255,0)"},
{"offset":0.9691,"color":"rgba(0,255,255,0)"},{"offset":0.9713,"color":"#0ff"},{"offset":0.9735,"color":"rgba(0,255,255,0)"},
{"offset":0.9829,"color":"rgba(0,255,255,0)"},{"offset":0.9851,"color":"#0ff"},{"offset":0.9873,"color":"rgba(0,255,255,0)"}
]}},
 "encoding": {
  "x": {"field": "x", "type": "quantitative", "scale": {"domain": [-51, 751], "nice": false, "zero": false}, "axis": {"values": [-40,-20,0,20,40,60,80,100,120,140,160,180,200,220,240,260,280,300,320,340,360,380,400,420,440,460,480,500,520,540,560,580,600,620,640,660,680,700,720,740], "tickSize": {"condition": {"test": "datum.value % 100 === 0", "value": -24}, "value": -12}, "labelExpr": "datum.value % 100 === 0 ? datum.label : ''", "labelBaseline": "top", "labelFlush": false, "labelOverlap": false, "grid": false, "title": "ADC - pedestal", "titleAlign": "right", "titleAnchor": "end", "titleX": 1209, "titleY": 67, "titleBaseline": "alphabetic", "zindex": 1}},
  "y": {"field": "y", "type": "quantitative", "scale": {"domain": [1, 200], "nice": false, "zero": false}, "axis": {"values": [5,10,15,20,25,30,35,40,45,50,55,60,65,70,75,80,85,90,95,100,105,110,115,120,125,130,135,140,145,150,155,160,165,170,175,180,185,190,195,200], "tickSize": {"condition": {"test": "datum.value % 20 === 0", "value": -29}, "value": -17}, "labelExpr": "datum.value % 20 === 0 ? datum.label : ''", "labelFlush": false, "labelOverlap": false, "grid": false, "title": null, "zindex": 1}},
  "y2": {"datum": 0}}},
{"data": {"name": "ped"}, "mark": {"type": "area", "opacity": 1, "clip": true,
  "fill": {"gradient": "linear", "x1": 0, "y1": 0, "x2": 0.187, "y2": 1.1448, "stops": [
{"offset":0.0039,"color":"transparent"},{"offset":0.0060,"color":"#000"},{"offset":0.0081,"color":"transparent"},
{"offset":0.0167,"color":"transparent"},{"offset":0.0188,"color":"#000"},{"offset":0.0209,"color":"transparent"},
{"offset":0.0294,"color":"transparent"},{"offset":0.0315,"color":"#000"},{"offset":0.0336,"color":"transparent"},
{"offset":0.0422,"color":"transparent"},{"offset":0.0443,"color":"#000"},{"offset":0.0464,"color":"transparent"},
{"offset":0.0550,"color":"transparent"},{"offset":0.0571,"color":"#000"},{"offset":0.0592,"color":"transparent"},
{"offset":0.0678,"color":"transparent"},{"offset":0.0699,"color":"#000"},{"offset":0.0720,"color":"transparent"},
{"offset":0.0805,"color":"transparent"},{"offset":0.0826,"color":"#000"},{"offset":0.0847,"color":"transparent"},
{"offset":0.0933,"color":"transparent"},{"offset":0.0954,"color":"#000"},{"offset":0.0975,"color":"transparent"},
{"offset":0.1061,"color":"transparent"},{"offset":0.1082,"color":"#000"},{"offset":0.1103,"color":"transparent"},
{"offset":0.1189,"color":"transparent"},{"offset":0.1210,"color":"#000"},{"offset":0.1231,"color":"transparent"},
{"offset":0.1316,"color":"transparent"},{"offset":0.1337,"color":"#000"},{"offset":0.1358,"color":"transparent"},
{"offset":0.1444,"color":"transparent"},{"offset":0.1465,"color":"#000"},{"offset":0.1486,"color":"transparent"},
{"offset":0.1572,"color":"transparent"},{"offset":0.1593,"color":"#000"},{"offset":0.1614,"color":"transparent"},
{"offset":0.1700,"color":"transparent"},{"offset":0.1721,"color":"#000"},{"offset":0.1742,"color":"transparent"},
{"offset":0.1827,"color":"transparent"},{"offset":0.1848,"color":"#000"},{"offset":0.1869,"color":"transparent"},
{"offset":0.1955,"color":"transparent"},{"offset":0.1976,"color":"#000"},{"offset":0.1997,"color":"transparent"},
{"offset":0.2083,"color":"transparent"},{"offset":0.2104,"color":"#000"},{"offset":0.2125,"color":"transparent"},
{"offset":0.2211,"color":"transparent"},{"offset":0.2232,"color":"#000"},{"offset":0.2253,"color":"transparent"},
{"offset":0.2338,"color":"transparent"},{"offset":0.2359,"color":"#000"},{"offset":0.2380,"color":"transparent"},
{"offset":0.2466,"color":"transparent"},{"offset":0.2487,"color":"#000"},{"offset":0.2508,"color":"transparent"},
{"offset":0.2594,"color":"transparent"},{"offset":0.2615,"color":"#000"},{"offset":0.2636,"color":"transparent"},
{"offset":0.2722,"color":"transparent"},{"offset":0.2743,"color":"#000"},{"offset":0.2764,"color":"transparent"},
{"offset":0.2849,"color":"transparent"},{"offset":0.2870,"color":"#000"},{"offset":0.2891,"color":"transparent"},
{"offset":0.2977,"color":"transparent"},{"offset":0.2998,"color":"#000"},{"offset":0.3019,"color":"transparent"},
{"offset":0.3105,"color":"transparent"},{"offset":0.3126,"color":"#000"},{"offset":0.3147,"color":"transparent"},
{"offset":0.3233,"color":"transparent"},{"offset":0.3254,"color":"#000"},{"offset":0.3275,"color":"transparent"},
{"offset":0.3360,"color":"transparent"},{"offset":0.3381,"color":"#000"},{"offset":0.3402,"color":"transparent"},
{"offset":0.3488,"color":"transparent"},{"offset":0.3509,"color":"#000"},{"offset":0.3530,"color":"transparent"},
{"offset":0.3616,"color":"transparent"},{"offset":0.3637,"color":"#000"},{"offset":0.3658,"color":"transparent"},
{"offset":0.3743,"color":"transparent"},{"offset":0.3764,"color":"#000"},{"offset":0.3785,"color":"transparent"},
{"offset":0.3871,"color":"transparent"},{"offset":0.3892,"color":"#000"},{"offset":0.3913,"color":"transparent"},
{"offset":0.3999,"color":"transparent"},{"offset":0.4020,"color":"#000"},{"offset":0.4041,"color":"transparent"},
{"offset":0.4127,"color":"transparent"},{"offset":0.4148,"color":"#000"},{"offset":0.4169,"color":"transparent"},
{"offset":0.4254,"color":"transparent"},{"offset":0.4275,"color":"#000"},{"offset":0.4296,"color":"transparent"},
{"offset":0.4382,"color":"transparent"},{"offset":0.4403,"color":"#000"},{"offset":0.4424,"color":"transparent"},
{"offset":0.4510,"color":"transparent"},{"offset":0.4531,"color":"#000"},{"offset":0.4552,"color":"transparent"},
{"offset":0.4638,"color":"transparent"},{"offset":0.4659,"color":"#000"},{"offset":0.4680,"color":"transparent"},
{"offset":0.4765,"color":"transparent"},{"offset":0.4786,"color":"#000"},{"offset":0.4807,"color":"transparent"},
{"offset":0.4893,"color":"transparent"},{"offset":0.4914,"color":"#000"},{"offset":0.4935,"color":"transparent"},
{"offset":0.5021,"color":"transparent"},{"offset":0.5042,"color":"#000"},{"offset":0.5063,"color":"transparent"},
{"offset":0.5149,"color":"transparent"},{"offset":0.5170,"color":"#000"},{"offset":0.5191,"color":"transparent"},
{"offset":0.5276,"color":"transparent"},{"offset":0.5297,"color":"#000"},{"offset":0.5318,"color":"transparent"},
{"offset":0.5404,"color":"transparent"},{"offset":0.5425,"color":"#000"},{"offset":0.5446,"color":"transparent"},
{"offset":0.5532,"color":"transparent"},{"offset":0.5553,"color":"#000"},{"offset":0.5574,"color":"transparent"},
{"offset":0.5660,"color":"transparent"},{"offset":0.5681,"color":"#000"},{"offset":0.5702,"color":"transparent"},
{"offset":0.5787,"color":"transparent"},{"offset":0.5808,"color":"#000"},{"offset":0.5829,"color":"transparent"},
{"offset":0.5915,"color":"transparent"},{"offset":0.5936,"color":"#000"},{"offset":0.5957,"color":"transparent"},
{"offset":0.6043,"color":"transparent"},{"offset":0.6064,"color":"#000"},{"offset":0.6085,"color":"transparent"},
{"offset":0.6171,"color":"transparent"},{"offset":0.6192,"color":"#000"},{"offset":0.6213,"color":"transparent"},
{"offset":0.6298,"color":"transparent"},{"offset":0.6319,"color":"#000"},{"offset":0.6340,"color":"transparent"},
{"offset":0.6426,"color":"transparent"},{"offset":0.6447,"color":"#000"},{"offset":0.6468,"color":"transparent"},
{"offset":0.6554,"color":"transparent"},{"offset":0.6575,"color":"#000"},{"offset":0.6596,"color":"transparent"},
{"offset":0.6681,"color":"transparent"},{"offset":0.6702,"color":"#000"},{"offset":0.6723,"color":"transparent"},
{"offset":0.6809,"color":"transparent"},{"offset":0.6830,"color":"#000"},{"offset":0.6851,"color":"transparent"},
{"offset":0.6937,"color":"transparent"},{"offset":0.6958,"color":"#000"},{"offset":0.6979,"color":"transparent"},
{"offset":0.7065,"color":"transparent"},{"offset":0.7086,"color":"#000"},{"offset":0.7107,"color":"transparent"},
{"offset":0.7192,"color":"transparent"},{"offset":0.7213,"color":"#000"},{"offset":0.7234,"color":"transparent"},
{"offset":0.7320,"color":"transparent"},{"offset":0.7341,"color":"#000"},{"offset":0.7362,"color":"transparent"},
{"offset":0.7448,"color":"transparent"},{"offset":0.7469,"color":"#000"},{"offset":0.7490,"color":"transparent"},
{"offset":0.7576,"color":"transparent"},{"offset":0.7597,"color":"#000"},{"offset":0.7618,"color":"transparent"},
{"offset":0.7703,"color":"transparent"},{"offset":0.7724,"color":"#000"},{"offset":0.7745,"color":"transparent"},
{"offset":0.7831,"color":"transparent"},{"offset":0.7852,"color":"#000"},{"offset":0.7873,"color":"transparent"},
{"offset":0.7959,"color":"transparent"},{"offset":0.7980,"color":"#000"},{"offset":0.8001,"color":"transparent"},
{"offset":0.8087,"color":"transparent"},{"offset":0.8108,"color":"#000"},{"offset":0.8129,"color":"transparent"},
{"offset":0.8214,"color":"transparent"},{"offset":0.8235,"color":"#000"},{"offset":0.8256,"color":"transparent"},
{"offset":0.8342,"color":"transparent"},{"offset":0.8363,"color":"#000"},{"offset":0.8384,"color":"transparent"},
{"offset":0.8470,"color":"transparent"},{"offset":0.8491,"color":"#000"},{"offset":0.8512,"color":"transparent"},
{"offset":0.8598,"color":"transparent"},{"offset":0.8619,"color":"#000"},{"offset":0.8640,"color":"transparent"},
{"offset":0.8725,"color":"transparent"},{"offset":0.8746,"color":"#000"},{"offset":0.8767,"color":"transparent"},
{"offset":0.8853,"color":"transparent"},{"offset":0.8874,"color":"#000"},{"offset":0.8895,"color":"transparent"},
{"offset":0.8981,"color":"transparent"},{"offset":0.9002,"color":"#000"},{"offset":0.9023,"color":"transparent"},
{"offset":0.9109,"color":"transparent"},{"offset":0.9130,"color":"#000"},{"offset":0.9151,"color":"transparent"},
{"offset":0.9236,"color":"transparent"},{"offset":0.9257,"color":"#000"},{"offset":0.9278,"color":"transparent"},
{"offset":0.9364,"color":"transparent"},{"offset":0.9385,"color":"#000"},{"offset":0.9406,"color":"transparent"},
{"offset":0.9492,"color":"transparent"},{"offset":0.9513,"color":"#000"},{"offset":0.9534,"color":"transparent"},
{"offset":0.9620,"color":"transparent"},{"offset":0.9641,"color":"#000"},{"offset":0.9662,"color":"transparent"},
{"offset":0.9747,"color":"transparent"},{"offset":0.9768,"color":"#000"},{"offset":0.9789,"color":"transparent"},
{"offset":0.9875,"color":"transparent"},{"offset":0.9896,"color":"#000"},{"offset":0.9917,"color":"transparent"}
]}},
 "encoding": {
  "x": {"field": "x", "type": "quantitative", "scale": {"domain": [-51, 751], "nice": false, "zero": false}, "axis": {"values": [-40,-20,0,20,40,60,80,100,120,140,160,180,200,220,240,260,280,300,320,340,360,380,400,420,440,460,480,500,520,540,560,580,600,620,640,660,680,700,720,740], "tickSize": {"condition": {"test": "datum.value % 100 === 0", "value": -24}, "value": -12}, "labelExpr": "datum.value % 100 === 0 ? datum.label : ''", "labelBaseline": "top", "labelFlush": false, "labelOverlap": false, "grid": false, "title": "ADC - pedestal", "titleAlign": "right", "titleAnchor": "end", "titleX": 1209, "titleY": 67, "titleBaseline": "alphabetic", "zindex": 1}},
  "y": {"field": "y", "type": "quantitative", "scale": {"domain": [1, 200], "nice": false, "zero": false}, "axis": {"values": [5,10,15,20,25,30,35,40,45,50,55,60,65,70,75,80,85,90,95,100,105,110,115,120,125,130,135,140,145,150,155,160,165,170,175,180,185,190,195,200], "tickSize": {"condition": {"test": "datum.value % 20 === 0", "value": -29}, "value": -17}, "labelExpr": "datum.value % 20 === 0 ? datum.label : ''", "labelFlush": false, "labelOverlap": false, "grid": false, "title": null, "zindex": 1}},
  "y2": {"datum": 0}}},
{"data": {"name": "ped"}, "mark": {"type": "area", "opacity": 1, "clip": true,
  "fill": {"gradient": "linear", "x1": 0, "y1": 1, "x2": 0.187, "y2": -0.1448, "stops": [
{"offset":0.0039,"color":"transparent"},{"offset":0.0060,"color":"#000"},{"offset":0.0081,"color":"transparent"},
{"offset":0.0167,"color":"transparent"},{"offset":0.0188,"color":"#000"},{"offset":0.0209,"color":"transparent"},
{"offset":0.0294,"color":"transparent"},{"offset":0.0315,"color":"#000"},{"offset":0.0336,"color":"transparent"},
{"offset":0.0422,"color":"transparent"},{"offset":0.0443,"color":"#000"},{"offset":0.0464,"color":"transparent"},
{"offset":0.0550,"color":"transparent"},{"offset":0.0571,"color":"#000"},{"offset":0.0592,"color":"transparent"},
{"offset":0.0678,"color":"transparent"},{"offset":0.0699,"color":"#000"},{"offset":0.0720,"color":"transparent"},
{"offset":0.0805,"color":"transparent"},{"offset":0.0826,"color":"#000"},{"offset":0.0847,"color":"transparent"},
{"offset":0.0933,"color":"transparent"},{"offset":0.0954,"color":"#000"},{"offset":0.0975,"color":"transparent"},
{"offset":0.1061,"color":"transparent"},{"offset":0.1082,"color":"#000"},{"offset":0.1103,"color":"transparent"},
{"offset":0.1189,"color":"transparent"},{"offset":0.1210,"color":"#000"},{"offset":0.1231,"color":"transparent"},
{"offset":0.1316,"color":"transparent"},{"offset":0.1337,"color":"#000"},{"offset":0.1358,"color":"transparent"},
{"offset":0.1444,"color":"transparent"},{"offset":0.1465,"color":"#000"},{"offset":0.1486,"color":"transparent"},
{"offset":0.1572,"color":"transparent"},{"offset":0.1593,"color":"#000"},{"offset":0.1614,"color":"transparent"},
{"offset":0.1700,"color":"transparent"},{"offset":0.1721,"color":"#000"},{"offset":0.1742,"color":"transparent"},
{"offset":0.1827,"color":"transparent"},{"offset":0.1848,"color":"#000"},{"offset":0.1869,"color":"transparent"},
{"offset":0.1955,"color":"transparent"},{"offset":0.1976,"color":"#000"},{"offset":0.1997,"color":"transparent"},
{"offset":0.2083,"color":"transparent"},{"offset":0.2104,"color":"#000"},{"offset":0.2125,"color":"transparent"},
{"offset":0.2211,"color":"transparent"},{"offset":0.2232,"color":"#000"},{"offset":0.2253,"color":"transparent"},
{"offset":0.2338,"color":"transparent"},{"offset":0.2359,"color":"#000"},{"offset":0.2380,"color":"transparent"},
{"offset":0.2466,"color":"transparent"},{"offset":0.2487,"color":"#000"},{"offset":0.2508,"color":"transparent"},
{"offset":0.2594,"color":"transparent"},{"offset":0.2615,"color":"#000"},{"offset":0.2636,"color":"transparent"},
{"offset":0.2722,"color":"transparent"},{"offset":0.2743,"color":"#000"},{"offset":0.2764,"color":"transparent"},
{"offset":0.2849,"color":"transparent"},{"offset":0.2870,"color":"#000"},{"offset":0.2891,"color":"transparent"},
{"offset":0.2977,"color":"transparent"},{"offset":0.2998,"color":"#000"},{"offset":0.3019,"color":"transparent"},
{"offset":0.3105,"color":"transparent"},{"offset":0.3126,"color":"#000"},{"offset":0.3147,"color":"transparent"},
{"offset":0.3233,"color":"transparent"},{"offset":0.3254,"color":"#000"},{"offset":0.3275,"color":"transparent"},
{"offset":0.3360,"color":"transparent"},{"offset":0.3381,"color":"#000"},{"offset":0.3402,"color":"transparent"},
{"offset":0.3488,"color":"transparent"},{"offset":0.3509,"color":"#000"},{"offset":0.3530,"color":"transparent"},
{"offset":0.3616,"color":"transparent"},{"offset":0.3637,"color":"#000"},{"offset":0.3658,"color":"transparent"},
{"offset":0.3743,"color":"transparent"},{"offset":0.3764,"color":"#000"},{"offset":0.3785,"color":"transparent"},
{"offset":0.3871,"color":"transparent"},{"offset":0.3892,"color":"#000"},{"offset":0.3913,"color":"transparent"},
{"offset":0.3999,"color":"transparent"},{"offset":0.4020,"color":"#000"},{"offset":0.4041,"color":"transparent"},
{"offset":0.4127,"color":"transparent"},{"offset":0.4148,"color":"#000"},{"offset":0.4169,"color":"transparent"},
{"offset":0.4254,"color":"transparent"},{"offset":0.4275,"color":"#000"},{"offset":0.4296,"color":"transparent"},
{"offset":0.4382,"color":"transparent"},{"offset":0.4403,"color":"#000"},{"offset":0.4424,"color":"transparent"},
{"offset":0.4510,"color":"transparent"},{"offset":0.4531,"color":"#000"},{"offset":0.4552,"color":"transparent"},
{"offset":0.4638,"color":"transparent"},{"offset":0.4659,"color":"#000"},{"offset":0.4680,"color":"transparent"},
{"offset":0.4765,"color":"transparent"},{"offset":0.4786,"color":"#000"},{"offset":0.4807,"color":"transparent"},
{"offset":0.4893,"color":"transparent"},{"offset":0.4914,"color":"#000"},{"offset":0.4935,"color":"transparent"},
{"offset":0.5021,"color":"transparent"},{"offset":0.5042,"color":"#000"},{"offset":0.5063,"color":"transparent"},
{"offset":0.5149,"color":"transparent"},{"offset":0.5170,"color":"#000"},{"offset":0.5191,"color":"transparent"},
{"offset":0.5276,"color":"transparent"},{"offset":0.5297,"color":"#000"},{"offset":0.5318,"color":"transparent"},
{"offset":0.5404,"color":"transparent"},{"offset":0.5425,"color":"#000"},{"offset":0.5446,"color":"transparent"},
{"offset":0.5532,"color":"transparent"},{"offset":0.5553,"color":"#000"},{"offset":0.5574,"color":"transparent"},
{"offset":0.5660,"color":"transparent"},{"offset":0.5681,"color":"#000"},{"offset":0.5702,"color":"transparent"},
{"offset":0.5787,"color":"transparent"},{"offset":0.5808,"color":"#000"},{"offset":0.5829,"color":"transparent"},
{"offset":0.5915,"color":"transparent"},{"offset":0.5936,"color":"#000"},{"offset":0.5957,"color":"transparent"},
{"offset":0.6043,"color":"transparent"},{"offset":0.6064,"color":"#000"},{"offset":0.6085,"color":"transparent"},
{"offset":0.6171,"color":"transparent"},{"offset":0.6192,"color":"#000"},{"offset":0.6213,"color":"transparent"},
{"offset":0.6298,"color":"transparent"},{"offset":0.6319,"color":"#000"},{"offset":0.6340,"color":"transparent"},
{"offset":0.6426,"color":"transparent"},{"offset":0.6447,"color":"#000"},{"offset":0.6468,"color":"transparent"},
{"offset":0.6554,"color":"transparent"},{"offset":0.6575,"color":"#000"},{"offset":0.6596,"color":"transparent"},
{"offset":0.6681,"color":"transparent"},{"offset":0.6702,"color":"#000"},{"offset":0.6723,"color":"transparent"},
{"offset":0.6809,"color":"transparent"},{"offset":0.6830,"color":"#000"},{"offset":0.6851,"color":"transparent"},
{"offset":0.6937,"color":"transparent"},{"offset":0.6958,"color":"#000"},{"offset":0.6979,"color":"transparent"},
{"offset":0.7065,"color":"transparent"},{"offset":0.7086,"color":"#000"},{"offset":0.7107,"color":"transparent"},
{"offset":0.7192,"color":"transparent"},{"offset":0.7213,"color":"#000"},{"offset":0.7234,"color":"transparent"},
{"offset":0.7320,"color":"transparent"},{"offset":0.7341,"color":"#000"},{"offset":0.7362,"color":"transparent"},
{"offset":0.7448,"color":"transparent"},{"offset":0.7469,"color":"#000"},{"offset":0.7490,"color":"transparent"},
{"offset":0.7576,"color":"transparent"},{"offset":0.7597,"color":"#000"},{"offset":0.7618,"color":"transparent"},
{"offset":0.7703,"color":"transparent"},{"offset":0.7724,"color":"#000"},{"offset":0.7745,"color":"transparent"},
{"offset":0.7831,"color":"transparent"},{"offset":0.7852,"color":"#000"},{"offset":0.7873,"color":"transparent"},
{"offset":0.7959,"color":"transparent"},{"offset":0.7980,"color":"#000"},{"offset":0.8001,"color":"transparent"},
{"offset":0.8087,"color":"transparent"},{"offset":0.8108,"color":"#000"},{"offset":0.8129,"color":"transparent"},
{"offset":0.8214,"color":"transparent"},{"offset":0.8235,"color":"#000"},{"offset":0.8256,"color":"transparent"},
{"offset":0.8342,"color":"transparent"},{"offset":0.8363,"color":"#000"},{"offset":0.8384,"color":"transparent"},
{"offset":0.8470,"color":"transparent"},{"offset":0.8491,"color":"#000"},{"offset":0.8512,"color":"transparent"},
{"offset":0.8598,"color":"transparent"},{"offset":0.8619,"color":"#000"},{"offset":0.8640,"color":"transparent"},
{"offset":0.8725,"color":"transparent"},{"offset":0.8746,"color":"#000"},{"offset":0.8767,"color":"transparent"},
{"offset":0.8853,"color":"transparent"},{"offset":0.8874,"color":"#000"},{"offset":0.8895,"color":"transparent"},
{"offset":0.8981,"color":"transparent"},{"offset":0.9002,"color":"#000"},{"offset":0.9023,"color":"transparent"},
{"offset":0.9109,"color":"transparent"},{"offset":0.9130,"color":"#000"},{"offset":0.9151,"color":"transparent"},
{"offset":0.9236,"color":"transparent"},{"offset":0.9257,"color":"#000"},{"offset":0.9278,"color":"transparent"},
{"offset":0.9364,"color":"transparent"},{"offset":0.9385,"color":"#000"},{"offset":0.9406,"color":"transparent"},
{"offset":0.9492,"color":"transparent"},{"offset":0.9513,"color":"#000"},{"offset":0.9534,"color":"transparent"},
{"offset":0.9620,"color":"transparent"},{"offset":0.9641,"color":"#000"},{"offset":0.9662,"color":"transparent"},
{"offset":0.9747,"color":"transparent"},{"offset":0.9768,"color":"#000"},{"offset":0.9789,"color":"transparent"},
{"offset":0.9875,"color":"transparent"},{"offset":0.9896,"color":"#000"},{"offset":0.9917,"color":"transparent"}
]}},
 "encoding": {
  "x": {"field": "x", "type": "quantitative", "scale": {"domain": [-51, 751], "nice": false, "zero": false}, "axis": {"values": [-40,-20,0,20,40,60,80,100,120,140,160,180,200,220,240,260,280,300,320,340,360,380,400,420,440,460,480,500,520,540,560,580,600,620,640,660,680,700,720,740], "tickSize": {"condition": {"test": "datum.value % 100 === 0", "value": -24}, "value": -12}, "labelExpr": "datum.value % 100 === 0 ? datum.label : ''", "labelBaseline": "top", "labelFlush": false, "labelOverlap": false, "grid": false, "title": "ADC - pedestal", "titleAlign": "right", "titleAnchor": "end", "titleX": 1209, "titleY": 67, "titleBaseline": "alphabetic", "zindex": 1}},
  "y": {"field": "y", "type": "quantitative", "scale": {"domain": [1, 200], "nice": false, "zero": false}, "axis": {"values": [5,10,15,20,25,30,35,40,45,50,55,60,65,70,75,80,85,90,95,100,105,110,115,120,125,130,135,140,145,150,155,160,165,170,175,180,185,190,195,200], "tickSize": {"condition": {"test": "datum.value % 20 === 0", "value": -29}, "value": -17}, "labelExpr": "datum.value % 20 === 0 ? datum.label : ''", "labelFlush": false, "labelOverlap": false, "grid": false, "title": null, "zindex": 1}},
  "y2": {"datum": 0}}},
{"data": {"name": "ped"}, "mark": {"type": "line", "color": "black", "strokeWidth": 3, "clip": true},
 "encoding": {
  "x": {"field": "x", "type": "quantitative", "scale": {"domain": [-51, 751], "nice": false, "zero": false}, "axis": {"values": [-40,-20,0,20,40,60,80,100,120,140,160,180,200,220,240,260,280,300,320,340,360,380,400,420,440,460,480,500,520,540,560,580,600,620,640,660,680,700,720,740], "tickSize": {"condition": {"test": "datum.value % 100 === 0", "value": -24}, "value": -12}, "labelExpr": "datum.value % 100 === 0 ? datum.label : ''", "labelBaseline": "top", "labelFlush": false, "labelOverlap": false, "grid": false, "title": "ADC - pedestal", "titleAlign": "right", "titleAnchor": "end", "titleX": 1209, "titleY": 67, "titleBaseline": "alphabetic", "zindex": 1}},
  "y": {"field": "y", "type": "quantitative", "scale": {"domain": [1, 200], "nice": false, "zero": false}, "axis": {"values": [5,10,15,20,25,30,35,40,45,50,55,60,65,70,75,80,85,90,95,100,105,110,115,120,125,130,135,140,145,150,155,160,165,170,175,180,185,190,195,200], "tickSize": {"condition": {"test": "datum.value % 20 === 0", "value": -29}, "value": -17}, "labelExpr": "datum.value % 20 === 0 ? datum.label : ''", "labelFlush": false, "labelOverlap": false, "grid": false, "title": null, "zindex": 1}}}},
{"data": {"name": "red"}, "mark": {"type": "line", "color": "#ff0000", "strokeWidth": 3, "clip": true},
 "encoding": {
  "x": {"field": "x", "type": "quantitative", "scale": {"domain": [-51, 751], "nice": false, "zero": false}, "axis": {"values": [-40,-20,0,20,40,60,80,100,120,140,160,180,200,220,240,260,280,300,320,340,360,380,400,420,440,460,480,500,520,540,560,580,600,620,640,660,680,700,720,740], "tickSize": {"condition": {"test": "datum.value % 100 === 0", "value": -24}, "value": -12}, "labelExpr": "datum.value % 100 === 0 ? datum.label : ''", "labelBaseline": "top", "labelFlush": false, "labelOverlap": false, "grid": false, "title": "ADC - pedestal", "titleAlign": "right", "titleAnchor": "end", "titleX": 1209, "titleY": 67, "titleBaseline": "alphabetic", "zindex": 1}},
  "y": {"field": "y", "type": "quantitative", "scale": {"domain": [1, 200], "nice": false, "zero": false}, "axis": {"values": [5,10,15,20,25,30,35,40,45,50,55,60,65,70,75,80,85,90,95,100,105,110,115,120,125,130,135,140,145,150,155,160,165,170,175,180,185,190,195,200], "tickSize": {"condition": {"test": "datum.value % 20 === 0", "value": -29}, "value": -17}, "labelExpr": "datum.value % 20 === 0 ? datum.label : ''", "labelFlush": false, "labelOverlap": false, "grid": false, "title": null, "zindex": 1}}}},
{"data": {"name": "cyan"}, "mark": {"type": "line", "color": "#00ffff", "strokeWidth": 4.5, "clip": true, "interpolate": "monotone"},
 "encoding": {
  "x": {"field": "x", "type": "quantitative", "scale": {"domain": [-51, 751], "nice": false, "zero": false}, "axis": {"values": [-40,-20,0,20,40,60,80,100,120,140,160,180,200,220,240,260,280,300,320,340,360,380,400,420,440,460,480,500,520,540,560,580,600,620,640,660,680,700,720,740], "tickSize": {"condition": {"test": "datum.value % 100 === 0", "value": -24}, "value": -12}, "labelExpr": "datum.value % 100 === 0 ? datum.label : ''", "labelBaseline": "top", "labelFlush": false, "labelOverlap": false, "grid": false, "title": "ADC - pedestal", "titleAlign": "right", "titleAnchor": "end", "titleX": 1209, "titleY": 67, "titleBaseline": "alphabetic", "zindex": 1}},
  "y": {"field": "y", "type": "quantitative", "scale": {"domain": [1, 200], "nice": false, "zero": false}, "axis": {"values": [5,10,15,20,25,30,35,40,45,50,55,60,65,70,75,80,85,90,95,100,105,110,115,120,125,130,135,140,145,150,155,160,165,170,175,180,185,190,195,200], "tickSize": {"condition": {"test": "datum.value % 20 === 0", "value": -29}, "value": -17}, "labelExpr": "datum.value % 20 === 0 ? datum.label : ''", "labelFlush": false, "labelOverlap": false, "grid": false, "title": null, "zindex": 1}}}},
{"data": {"values": [{}]}, "mark": {"type": "rule", "color": "black", "strokeWidth": 2},
 "encoding": {
  "x": {"datum": 53.8, "type": "quantitative", "axis": {"values": [-40,-20,0,20,40,60,80,100,120,140,160,180,200,220,240,260,280,300,320,340,360,380,400,420,440,460,480,500,520,540,560,580,600,620,640,660,680,700,720,740], "tickSize": {"condition": {"test": "datum.value % 100 === 0", "value": -24}, "value": -12}, "labelExpr": "datum.value % 100 === 0 ? datum.label : ''", "labelBaseline": "top", "labelFlush": false, "labelOverlap": false, "grid": false, "title": "ADC - pedestal", "titleAlign": "right", "titleAnchor": "end", "titleX": 1209, "titleY": 67, "titleBaseline": "alphabetic", "zindex": 1}},
  "y": {"datum": 0, "type": "quantitative", "axis": {"values": [5,10,15,20,25,30,35,40,45,50,55,60,65,70,75,80,85,90,95,100,105,110,115,120,125,130,135,140,145,150,155,160,165,170,175,180,185,190,195,200], "tickSize": {"condition": {"test": "datum.value % 20 === 0", "value": -29}, "value": -17}, "labelExpr": "datum.value % 20 === 0 ? datum.label : ''", "labelFlush": false, "labelOverlap": false, "grid": false, "title": null, "zindex": 1}},
  "y2": {"datum": 210.2}}},
{"data": {"values": [{}]}, "mark": {"type": "rect", "fill": "white", "stroke": "black", "strokeWidth": 2},
 "encoding": {
  "x": {"datum": 630.9, "type": "quantitative", "axis": {"values": [-40,-20,0,20,40,60,80,100,120,140,160,180,200,220,240,260,280,300,320,340,360,380,400,420,440,460,480,500,520,540,560,580,600,620,640,660,680,700,720,740], "tickSize": {"condition": {"test": "datum.value % 100 === 0", "value": -24}, "value": -12}, "labelExpr": "datum.value % 100 === 0 ? datum.label : ''", "labelBaseline": "top", "labelFlush": false, "labelOverlap": false, "grid": false, "title": "ADC - pedestal", "titleAlign": "right", "titleAnchor": "end", "titleX": 1209, "titleY": 67, "titleBaseline": "alphabetic", "zindex": 1}},
  "x2": {"datum": 828.4},
  "y": {"datum": 208.98, "type": "quantitative", "axis": {"values": [5,10,15,20,25,30,35,40,45,50,55,60,65,70,75,80,85,90,95,100,105,110,115,120,125,130,135,140,145,150,155,160,165,170,175,180,185,190,195,200], "tickSize": {"condition": {"test": "datum.value % 20 === 0", "value": -29}, "value": -17}, "labelExpr": "datum.value % 20 === 0 ? datum.label : ''", "labelFlush": false, "labelOverlap": false, "grid": false, "title": null, "zindex": 1}},
  "y2": {"datum": 168.7}}},
{"data": {"values": [{}]}, "mark": {"type": "rule", "color": "black", "strokeWidth": 2},
 "encoding": {
  "x": {"datum": 630.9, "type": "quantitative", "axis": {"values": [-40,-20,0,20,40,60,80,100,120,140,160,180,200,220,240,260,280,300,320,340,360,380,400,420,440,460,480,500,520,540,560,580,600,620,640,660,680,700,720,740], "tickSize": {"condition": {"test": "datum.value % 100 === 0", "value": -24}, "value": -12}, "labelExpr": "datum.value % 100 === 0 ? datum.label : ''", "labelBaseline": "top", "labelFlush": false, "labelOverlap": false, "grid": false, "title": "ADC - pedestal", "titleAlign": "right", "titleAnchor": "end", "titleX": 1209, "titleY": 67, "titleBaseline": "alphabetic", "zindex": 1}},
  "x2": {"datum": 828.4},
  "y": {"datum": 198.8, "type": "quantitative", "axis": {"values": [5,10,15,20,25,30,35,40,45,50,55,60,65,70,75,80,85,90,95,100,105,110,115,120,125,130,135,140,145,150,155,160,165,170,175,180,185,190,195,200], "tickSize": {"condition": {"test": "datum.value % 20 === 0", "value": -29}, "value": -17}, "labelExpr": "datum.value % 20 === 0 ? datum.label : ''", "labelFlush": false, "labelOverlap": false, "grid": false, "title": null, "zindex": 1}}}},
{"data": {"values": [{}]}, "mark": {"type": "text", "text": "h1PedSub_030", "font": "Liberation Sans", "fontSize": 35, "color": "black", "align": "center", "baseline": "middle"},
 "encoding": {
  "x": {"datum": 730.4, "type": "quantitative", "axis": {"values": [-40,-20,0,20,40,60,80,100,120,140,160,180,200,220,240,260,280,300,320,340,360,380,400,420,440,460,480,500,520,540,560,580,600,620,640,660,680,700,720,740], "tickSize": {"condition": {"test": "datum.value % 100 === 0", "value": -24}, "value": -12}, "labelExpr": "datum.value % 100 === 0 ? datum.label : ''", "labelBaseline": "top", "labelFlush": false, "labelOverlap": false, "grid": false, "title": "ADC - pedestal", "titleAlign": "right", "titleAnchor": "end", "titleX": 1209, "titleY": 67, "titleBaseline": "alphabetic", "zindex": 1}},
  "y": {"datum": 203.9, "type": "quantitative", "axis": {"values": [5,10,15,20,25,30,35,40,45,50,55,60,65,70,75,80,85,90,95,100,105,110,115,120,125,130,135,140,145,150,155,160,165,170,175,180,185,190,195,200], "tickSize": {"condition": {"test": "datum.value % 20 === 0", "value": -29}, "value": -17}, "labelExpr": "datum.value % 20 === 0 ? datum.label : ''", "labelFlush": false, "labelOverlap": false, "grid": false, "title": null, "zindex": 1}}}},
{"data": {"values": [{}]}, "mark": {"type": "text", "text": ["Entries", "Mean", "Std Dev"], "lineHeight": 40, "font": "Liberation Sans", "fontSize": 32, "color": "black", "align": "left", "baseline": "middle"},
 "encoding": {
  "x": {"datum": 640.2, "type": "quantitative", "axis": {"values": [-40,-20,0,20,40,60,80,100,120,140,160,180,200,220,240,260,280,300,320,340,360,380,400,420,440,460,480,500,520,540,560,580,600,620,640,660,680,700,720,740], "tickSize": {"condition": {"test": "datum.value % 100 === 0", "value": -24}, "value": -12}, "labelExpr": "datum.value % 100 === 0 ? datum.label : ''", "labelBaseline": "top", "labelFlush": false, "labelOverlap": false, "grid": false, "title": "ADC - pedestal", "titleAlign": "right", "titleAnchor": "end", "titleX": 1209, "titleY": 67, "titleBaseline": "alphabetic", "zindex": 1}},
  "y": {"datum": 193.45, "type": "quantitative", "axis": {"values": [5,10,15,20,25,30,35,40,45,50,55,60,65,70,75,80,85,90,95,100,105,110,115,120,125,130,135,140,145,150,155,160,165,170,175,180,185,190,195,200], "tickSize": {"condition": {"test": "datum.value % 20 === 0", "value": -29}, "value": -17}, "labelExpr": "datum.value % 20 === 0 ? datum.label : ''", "labelFlush": false, "labelOverlap": false, "grid": false, "title": null, "zindex": 1}}}},
{"data": {"values": [{}]}, "mark": {"type": "text", "text": ["500006", "23.94", "111.3"], "lineHeight": 40, "font": "Liberation Sans", "fontSize": 32, "color": "black", "align": "right", "baseline": "middle"},
 "encoding": {
  "x": {"datum": 821.3, "type": "quantitative", "axis": {"values": [-40,-20,0,20,40,60,80,100,120,140,160,180,200,220,240,260,280,300,320,340,360,380,400,420,440,460,480,500,520,540,560,580,600,620,640,660,680,700,720,740], "tickSize": {"condition": {"test": "datum.value % 100 === 0", "value": -24}, "value": -12}, "labelExpr": "datum.value % 100 === 0 ? datum.label : ''", "labelBaseline": "top", "labelFlush": false, "labelOverlap": false, "grid": false, "title": "ADC - pedestal", "titleAlign": "right", "titleAnchor": "end", "titleX": 1209, "titleY": 67, "titleBaseline": "alphabetic", "zindex": 1}},
  "y": {"datum": 193.45, "type": "quantitative", "axis": {"values": [5,10,15,20,25,30,35,40,45,50,55,60,65,70,75,80,85,90,95,100,105,110,115,120,125,130,135,140,145,150,155,160,165,170,175,180,185,190,195,200], "tickSize": {"condition": {"test": "datum.value % 20 === 0", "value": -29}, "value": -17}, "labelExpr": "datum.value % 20 === 0 ? datum.label : ''", "labelFlush": false, "labelOverlap": false, "grid": false, "title": null, "zindex": 1}}}}
]
}
